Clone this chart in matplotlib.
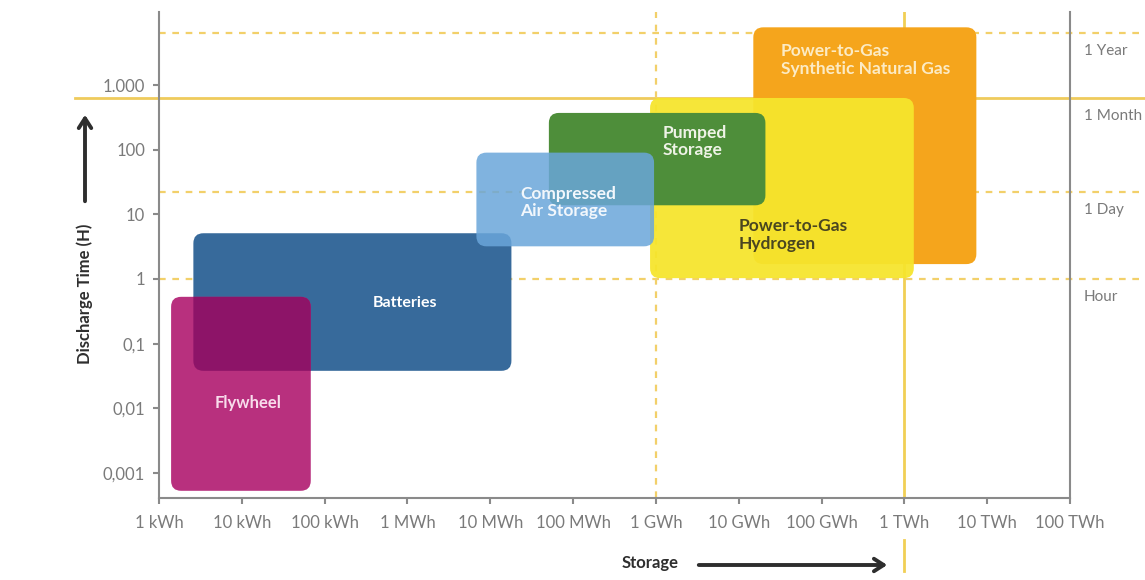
import numpy as np
import matplotlib.pyplot as plt
from matplotlib.patches import FancyBboxPatch

plt.rcParams['font.family'] = ['Lato', 'DejaVu Sans']

# storage technologies: capacity range (kWh) and discharge time range (h)
techs = ['Power-to-Gas\nSynthetic Natural Gas', 'Power-to-Gas\nHydrogen', 'Pumped\nStorage',
         'Batteries', 'Compressed\nAir Storage', 'Flywheel']
capMin = [1.5e7, 8.5e5, 5.1e4, 2.6, 6.8e3, 1.4]
capMax = [7.4e9, 1.3e9, 2.1e7, 1.8e4, 9.5e5, 68]
timeMin = [1.7, 1.03, 13.8, 0.038, 3.2, 0.00053]
timeMax = [7800, 630, 370, 5.1, 90, 0.53]
colors = ['#F5A51C', '#F6E52C', '#4E8E3A', '#376A9B', '#6AA6DA', '#B8307E']
alphas = [1.0, 0.94, 1.0, 1.0, 0.85, 1.0]
labelX = [3.2e7, 1.0e7, 1.22e6, 935, 2.3e4, 11.9]
labelY = [2440, 4.8, 133, 0.43, 15.3, 0.012]
labelColors = ['#FCEBC4', '#4A4620', '#EEF3E6', 'white', '#F2F7FC', '#F8DDEC']
labelAlign = ['left', 'left', 'left', 'center', 'left', 'center']
labelSizes = [12.5, 12.5, 12.5, 11.5, 12.5, 12]
overlapColor = '#8D1468'  # flywheel over batteries

xTicks = [1, 1e1, 1e2, 1e3, 1e4, 1e5, 1e6, 1e7, 1e8, 1e9, 1e10, 1e11]
xTickLabels = ['1 kWh', '10 kWh', '100 kWh', '1 MWh', '10 MWh', '100 MWh', '1 GWh',
               '10 GWh', '100 GWh', '1 TWh', '10 TWh', '100 TWh']
yTicks = [0.001, 0.01, 0.1, 1, 10, 100, 1000]
yTickLabels = ['0,001', '0,01', '0,1', '1', '10', '100', '1.000']

# time markers (h)
periodNames = ['1 Year', '1 Month', '1 Day', 'Hour']
periodHours = [6300, 630, 22, 1]
periodStyle = ['dashed', 'solid', 'dashed', 'dashed']

W, H = 1145, 580
fig = plt.figure(figsize=(W / 100, H / 100), dpi=100)
ax = fig.add_axes([159 / W, 1 - 498 / H, 911 / W, 486 / H])
ax.set_xscale('log')
ax.set_yscale('log')
ax.set_xlim(1, 1e11)
ax.set_ylim(10 ** -3.387, 10 ** 4.129)

gray = '#8A8A8A'
lineYellow = '#F1CF55'

# horizontal period lines
for name, hrs, st in zip(periodNames, periodHours, periodStyle):
    if st == 'solid':
        ax.plot([-0.092, 1.09], [hrs, hrs], transform=ax.get_yaxis_transform(),
                color='#EFCB5C', lw=2, clip_on=False, zorder=0.5)
    else:
        ax.plot([0, 1.09], [hrs, hrs], transform=ax.get_yaxis_transform(),
                color='#F2D06A', lw=1.6, ls=(0, (3, 3)), clip_on=False, zorder=0.5)
    ax.annotate(name, xy=(1.0, hrs), xycoords=ax.get_yaxis_transform(),
                xytext=(10, -8), textcoords='offset points', ha='left', va='top',
                fontsize=11, color='#7A7A7A')

# vertical markers at 1 GWh and 1 TWh
ax.axvline(1e6, color='#F2D06A', lw=1.6, ls=(0, (3, 3)), zorder=0.5)
ax.axvline(1e9, color=lineYellow, lw=2, zorder=0.5)
ax.plot([1e9, 1e9], [-0.086, -0.15], transform=ax.get_xaxis_transform(),
        color=lineYellow, lw=2, clip_on=False)

toAxes = lambda x, y: ax.transAxes.inverted().transform(ax.transData.transform((x, y)))
aspect = 911 / 486

def makeBox(i, color, alpha, z):
    x0, y0 = toAxes(capMin[i], timeMin[i])
    x1, y1 = toAxes(capMax[i], timeMax[i])
    box = FancyBboxPatch((x0, y0), x1 - x0, y1 - y0,
                         boxstyle='round,pad=0,rounding_size=0.011', mutation_aspect=aspect,
                         transform=ax.transAxes, fc=color, ec='none', alpha=alpha, zorder=z)
    ax.add_patch(box)
    return box

boxes = []
for i in range(len(techs)):
    boxes.append(makeBox(i, colors[i], alphas[i], 2 + i))
    ax.text(labelX[i], labelY[i], techs[i], ha=labelAlign[i], va='center',
            color=labelColors[i], fontsize=labelSizes[i], fontweight='bold',
            linespacing=1.1, zorder=10)

# darker region where flywheel and batteries overlap
fw = techs.index('Flywheel')
bt = techs.index('Batteries')
ov = makeBox(fw, overlapColor, 1.0, 9)
ov.set_clip_path(boxes[bt])

ax.set_xticks(xTicks)
ax.set_xticklabels(xTickLabels)
ax.set_yticks(yTicks)
ax.set_yticklabels(yTickLabels)
ax.minorticks_off()
ax.tick_params(axis='both', colors=gray, labelcolor='#7A7A7A', labelsize=12,
               length=4, width=1.5)
ax.tick_params(axis='x', pad=8)
ax.tick_params(axis='y', pad=6)

ax.spines['top'].set_visible(False)
for s in ['left', 'bottom', 'right']:
    ax.spines[s].set_color(gray)
    ax.spines[s].set_linewidth(1.5)

# axis titles with arrows
fig.text(85 / W, 1 - 294 / H, 'Discharge Time (H)', rotation=90, ha='center', va='center',
         fontsize=12, fontweight='bold', color='#2E2E2E')
ax.annotate('', xy=(85 / W, 1 - 112 / H), xytext=(85 / W, 1 - 204 / H),
            xycoords='figure fraction', textcoords='figure fraction',
            arrowprops=dict(arrowstyle='->,head_length=0.7,head_width=0.45', lw=2.8,
                            color='#2E2E2E'))
fig.text(650 / W, 1 - 563 / H, 'Storage', ha='center', va='center',
         fontsize=12, fontweight='bold', color='#2E2E2E')
ax.annotate('', xy=(890 / W, 1 - 565 / H), xytext=(696 / W, 1 - 565 / H),
            xycoords='figure fraction', textcoords='figure fraction',
            arrowprops=dict(arrowstyle='->,head_length=0.7,head_width=0.45', lw=2.8,
                            color='#2E2E2E'))

fig.savefig('out.png', dpi=100, facecolor='white')
